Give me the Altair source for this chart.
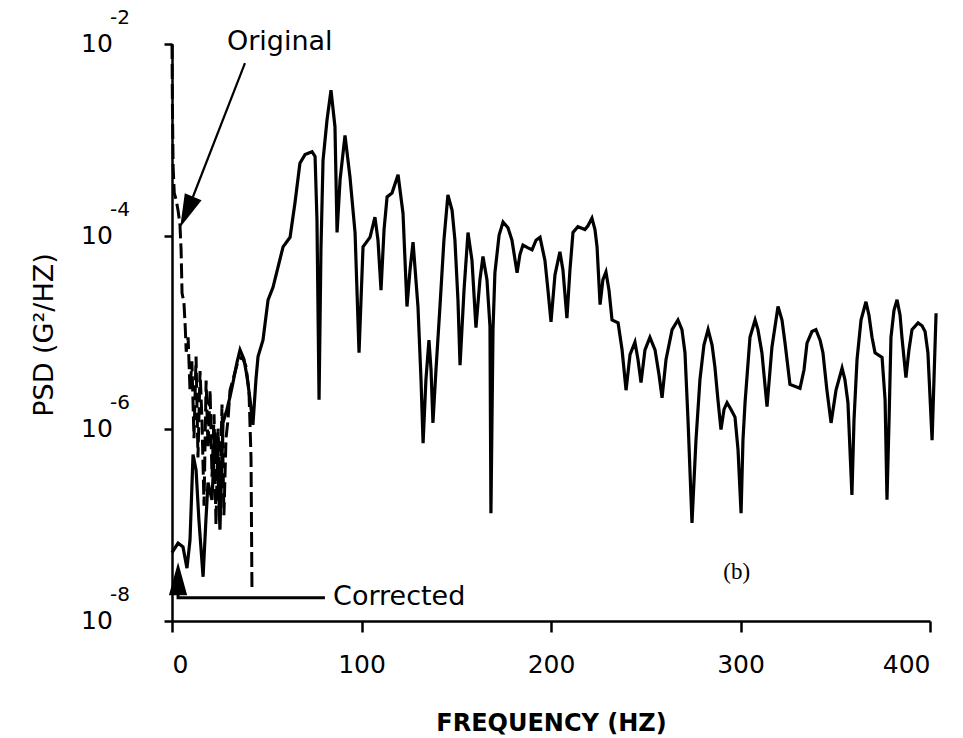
import altair as alt
import pandas as pd

# ---- data (frequency in Hz, PSD as log10 value) ----
corr_f = [0,1.6,3.2,5.8,7.9,9.5,11.1,12.7,14.2,16.4,
          17.9,19.0,21.1,22.7,24.3,25.3,26.9,29.0,30.6,32.2,
          34.3,35.9,38.0,39.6,41.2,42.7,44.3,45.4,48.0,50.7,
          53.3,58.6,62.3,64.9,67.5,70.2,73.9,75.5,76.5,77.6,
          78.6,79.7,81.8,83.9,86.0,87.1,88.7,91.3,93.9,96.6,
          98.7,100.8,103.4,104.5,107.1,108.7,110.3,111.9,113.5,116.1,
          119.3,121.9,124.0,125.6,127.2,129.8,131.4,132.5,134.0,135.6,
          136.7,137.7,139.3,141.4,143.5,145.6,147.8,149.3,150.9,152.0,
          154.1,156.2,158.3,160.4,162.5,164.1,166.2,167.8,168.3,169.4,
          170.4,172.6,174.7,177.3,179.4,182.1,183.6,185.2,187.9,190.0,
          192.1,194.2,196.8,198.4,200.0,202.1,204.7,206.3,208.4,210.0,
          211.6,214.2,217.9,219.5,221.6,223.2,224.3,225.9,227.4,229.0,
          230.6,232.2,235.4,237.5,239.6,241.7,244.3,245.9,247.5,249.6,
          252.2,254.9,257.0,258.6,260.7,263.9,267.0,269.1,270.7,272.3,
          274.4,276.5,278.6,280.7,282.9,285.0,286.5,288.1,289.7,291.3,
          292.9,295.0,297.1,298.7,300.3,301.3,302.4,305.0,307.7,309.2,
          311.3,314.0,316.6,319.8,321.9,323.5,326.1,331.4,333.5,335.1,
          337.7,339.8,342.0,343.5,345.6,347.8,350.4,353.6,355.1,356.7,
          358.8,359.9,361.5,363.6,366.2,367.8,369.4,371.0,374.7,376.3,
          377.3,378.4,379.4,381.0,382.6,384.2,385.2,387.3,388.9,390.5,
          393.7,395.8,397.4,398.9,401.1,402.1,403.2]
corr_log = [-7.29,-7.24,-7.19,-7.23,-7.45,-7.16,-6.27,-6.43,-6.95,-7.54,
            -6.95,-6.56,-6.74,-6.04,-6.43,-7.05,-5.94,-5.80,-5.67,-5.52,
            -5.31,-5.18,-5.28,-5.46,-5.70,-5.96,-5.49,-5.25,-5.08,-4.66,
            -4.53,-4.11,-4.01,-3.65,-3.24,-3.15,-3.12,-3.17,-3.83,-5.70,
            -4.14,-3.21,-2.79,-2.48,-2.86,-3.96,-3.41,-2.95,-3.38,-3.96,
            -5.21,-4.11,-4.04,-4.01,-3.80,-4.04,-4.56,-3.93,-3.59,-3.55,
            -3.36,-3.76,-4.73,-4.35,-4.06,-4.73,-5.49,-6.15,-5.49,-5.08,
            -5.39,-5.94,-5.39,-4.73,-4.04,-3.57,-3.73,-4.04,-4.66,-5.34,
            -4.56,-3.96,-4.25,-4.95,-4.45,-4.21,-4.45,-4.94,-6.88,-4.97,
            -4.38,-3.99,-3.85,-3.91,-4.04,-4.38,-4.19,-4.09,-4.12,-4.14,
            -4.04,-4.01,-4.25,-4.56,-4.89,-4.40,-4.16,-4.35,-4.85,-4.35,
            -3.96,-3.90,-3.93,-3.89,-3.81,-3.93,-4.11,-4.71,-4.45,-4.37,
            -4.56,-4.87,-4.90,-5.18,-5.60,-5.23,-5.10,-5.28,-5.52,-5.18,
            -5.05,-5.18,-5.44,-5.68,-5.28,-4.97,-4.87,-4.97,-5.21,-5.91,
            -6.98,-6.12,-5.49,-5.13,-4.97,-5.13,-5.36,-5.70,-6.01,-5.80,
            -5.73,-5.80,-5.88,-6.22,-6.88,-6.12,-5.73,-5.05,-4.87,-4.97,
            -5.21,-5.77,-5.15,-4.73,-4.87,-5.11,-5.54,-5.58,-5.39,-5.11,
            -4.99,-4.97,-5.08,-5.21,-5.60,-5.94,-5.60,-5.37,-5.49,-5.73,
            -6.69,-5.91,-5.28,-4.87,-4.68,-4.82,-5.05,-5.21,-5.26,-5.70,
            -6.74,-5.91,-5.05,-4.77,-4.66,-4.82,-5.05,-5.47,-5.18,-4.97,
            -4.90,-4.93,-4.99,-5.21,-6.12,-5.49,-4.80]

orig_f = [0,0.2,0.6,1.2,2.2,3.2,4.2,4.8,5.3,6.3,
          7.0,7.5,8.5,9.5,10.5,11.6,12.7,13.7,14.8,15.8,
          16.9,18.0,19.0,20.1,21.1,22.2,23.2,24.3,25.3,26.4,
          27.4,28.5,29.6,30.6,32.7,34.8,36.9,39.0,40.6,41.7,42.2]
orig_log = [-2.0,-2.6,-3.28,-3.55,-3.62,-3.73,-3.88,-4.14,-4.59,-4.69,
            -4.95,-5.2,-5.05,-5.6,-5.3,-6.1,-5.25,-6.3,-5.4,-5.9,
            -6.8,-5.5,-6.2,-5.6,-6.5,-5.85,-7.0,-6.0,-6.6,-5.75,
            -6.9,-6.1,-5.9,-5.6,-5.45,-5.3,-5.25,-5.35,-5.6,-6.3,-7.68]

ytick_vals = [1e-2, 1e-4, 1e-6, 1e-8]
ytick_exp = ["-2", "-4", "-6", "-8"]
xtick_vals = [0, 100, 200, 300, 400]

# annotation anchors (data coordinates)
orig_arrow_f = [38.5, 10.2]
orig_arrow_psd = [6.33e-3, 2.33e-4]
orig_head_f, orig_head_psd = 7.76, 1.79e-4
corr_arrow_f = [80.7, 3.2, 3.2]
corr_arrow_psd = [1.74e-8, 1.74e-8, 2.2e-8]
corr_head_f, corr_head_psd = 3.2, 2.75e-8

FONT = "DejaVu Sans"

corr = pd.DataFrame({"f": corr_f, "psd": [10 ** v for v in corr_log], "i": range(len(corr_f))})
orig = pd.DataFrame({"f": orig_f, "psd": [10 ** v for v in orig_log], "i": range(len(orig_f))})

xs = alt.Scale(domain=[0, 400], nice=False, zero=False)
ys = alt.Scale(type="log", domain=[1e-8, 1e-2], nice=False)

X = alt.X("f:Q", scale=xs, title="FREQUENCY   (HZ)",
          axis=alt.Axis(values=xtick_vals, grid=False, tickSize=11, tickWidth=2.5,
                        domainWidth=2.5, domainColor="black", tickColor="black",
                        labelFont=FONT, labelFontSize=25, labelColor="black",
                        labelPadding=20, titleFont=FONT, titleFontSize=24,
                        titleFontWeight="bold", titleColor="black", titlePadding=34))
Y = alt.Y("psd:Q", scale=ys, title="",
          axis=alt.Axis(values=ytick_vals, grid=False, labels=False, tickSize=8,
                        tickWidth=2.5, domainWidth=2.5, domainColor="black",
                        tickColor="black"))

corr_line = alt.Chart(corr).mark_line(color="black", strokeWidth=3.2).encode(
    x=X, y=Y, order="i:Q")
orig_line = alt.Chart(orig).mark_line(color="black", strokeWidth=3.0,
                                      strokeDash=[15, 5]).encode(
    x="f:Q", y="psd:Q", order="i:Q")

ytk = pd.DataFrame({"psd": ytick_vals, "e": ytick_exp})
ylab10 = alt.Chart(ytk).mark_text(font=FONT, fontSize=25, color="black",
                                  align="center", baseline="middle").encode(
    x=alt.value(-75), y="psd:Q", text=alt.value("10"))
ylabexp = alt.Chart(ytk).mark_text(font=FONT, fontSize=20, color="black",
                                   align="left", baseline="middle", dy=-26).encode(
    x=alt.value(-62), y="psd:Q", text="e:N")

ytitle = alt.Chart(pd.DataFrame({"t": ["PSD  (G²/HZ)"]})).mark_text(
    font=FONT, fontSize=27, color="black", angle=270, align="center",
    baseline="alphabetic").encode(x=alt.value(-119), y=alt.value(291), text="t:N")

oa = pd.DataFrame({"f": orig_arrow_f, "psd": orig_arrow_psd, "i": [0, 1]})
orig_arrow = alt.Chart(oa).mark_line(color="black", strokeWidth=2.2).encode(
    x="f:Q", y="psd:Q", order="i:Q")
ca = pd.DataFrame({"f": corr_arrow_f, "psd": corr_arrow_psd, "i": [0, 1, 2]})
corr_arrow = alt.Chart(ca).mark_line(color="black", strokeWidth=3).encode(
    x="f:Q", y="psd:Q", order="i:Q")

head_shape = "M0,-1L0.55,1L-0.55,1Z"
heads = pd.DataFrame({"f": [orig_head_f, corr_head_f],
                      "psd": [orig_head_psd, corr_head_psd],
                      "a": [203, 0]})
head_marks = alt.Chart(heads).mark_point(shape=head_shape, filled=True, color="black",
                                         size=1100, opacity=1, strokeWidth=0).encode(
    x="f:Q", y="psd:Q", angle=alt.Angle("a:Q", scale=None))

labels = pd.DataFrame({"f": [29.0, 85.0], "psd": [8.67e-3, 1.47e-8],
                       "t": ["Original", "Corrected"]})
label_marks = alt.Chart(labels).mark_text(font=FONT, fontSize=27, color="black",
                                          align="left", baseline="alphabetic").encode(
    x="f:Q", y="psd:Q", text="t:N")

blab = alt.Chart(pd.DataFrame({"f": [298.0], "psd": [3.2e-8], "t": ["(b)"]})).mark_text(
    font="Liberation Serif", fontSize=23, color="black", align="center",
    baseline="middle").encode(x="f:Q", y="psd:Q", text="t:N")

chart = alt.layer(corr_line, orig_line, orig_arrow, corr_arrow, head_marks,
                  ylab10, ylabexp, ytitle, label_marks, blab).properties(
    width=758, height=577,
    autosize=alt.AutoSizeParams(type="none"),
    padding={"left": 172, "top": 44, "right": 33, "bottom": 117},
    background="white",
).configure_view(stroke=None)

chart.save("out.html", embed_options={"renderer": "svg", "actions": False})
